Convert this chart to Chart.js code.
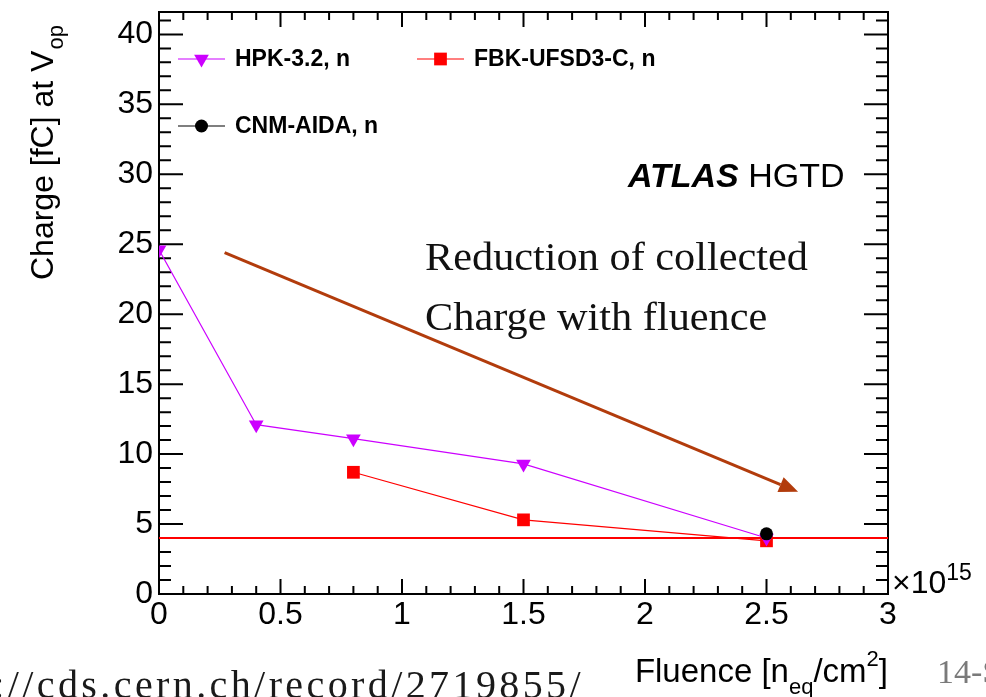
<!DOCTYPE html>
<html>
<head>
<meta charset="utf-8">
<script src="https://cdn.jsdelivr.net/npm/chart.js@4/dist/chart.umd.min.js"></script>
<style>
  html, body { margin: 0; padding: 0; background: #ffffff; overflow: hidden; }
  canvas { display: block; }
</style>
</head>
<body>
<canvas id="chart" width="986" height="697"></canvas>
<script>
// Fluence in units of 1e15 n_eq/cm^2, collected charge in fC
const hpkFluence = [0, 0.4, 0.8, 1.5, 2.5];
const hpkCharge  = [24.6, 12.1, 11.1, 9.3, 4.0];
const fbkFluence = [0.8, 1.5, 2.5];
const fbkCharge  = [8.7, 5.3, 3.8];
const cnmFluence = [2.5];
const cnmCharge  = [4.3];

// 4 fC operating requirement
const thresholdFluence = [0, 3];
const thresholdCharge  = [4, 4];

// trend arrow, start and end in data units
const arrowFluence = [0.27, 2.63];
const arrowCharge  = [24.4, 7.3];

const seriesLabels = ['HPK-3.2, n', 'FBK-UFSD3-C, n', 'CNM-AIDA, n'];
const xTicks = [0, 0.5, 1, 1.5, 2, 2.5, 3];
const yTicks = [0, 5, 10, 15, 20, 25, 30, 35, 40];

const SANS = "'Liberation Sans', Arial, Helvetica, sans-serif";
const SERIF = "'Liberation Serif', 'Times New Roman', serif";
const VIOLET = '#cc00ff';
const RED = '#ff0000';
const BLACK = '#000000';
const ARROW = '#b23c0c';

const toPoints = (xs, ys) => xs.map((x, i) => ({ x: x, y: ys[i] }));

// ROOT-style frame: box plus inward ticks on all four sides
const framePlugin = {
  id: 'rootFrame',
  beforeDatasetsDraw(chart) {
    const ctx = chart.ctx;
    const a = chart.chartArea;
    const xs = chart.scales.x, ys = chart.scales.y;
    ctx.save();
    ctx.strokeStyle = '#000';
    ctx.lineWidth = 2;
    ctx.strokeRect(a.left, a.top, a.right - a.left, a.bottom - a.top);

    const xMajor = 15, xMinor = 8, yMajor = 24, yMinor = 12;
    ctx.beginPath();
    for (let i = 0; i <= 30; i++) {
      const v = i / 10;
      const px = xs.getPixelForValue(v);
      const len = (i % 5 === 0) ? xMajor : xMinor;
      ctx.moveTo(px, a.bottom); ctx.lineTo(px, a.bottom - len);
      ctx.moveTo(px, a.top);    ctx.lineTo(px, a.top + len);
    }
    for (let v = 0; v <= ys.max; v += 1) {
      const py = ys.getPixelForValue(v);
      const len = (v % 5 === 0) ? yMajor : yMinor;
      ctx.moveTo(a.left, py);  ctx.lineTo(a.left + len, py);
      ctx.moveTo(a.right, py); ctx.lineTo(a.right - len, py);
    }
    ctx.stroke();
    ctx.restore();
  },
  afterDraw(chart) {
    const ctx = chart.ctx;
    const xs = chart.scales.x, ys = chart.scales.y;
    ctx.save();

    // trend arrow
    const x0 = xs.getPixelForValue(arrowFluence[0]), y0 = ys.getPixelForValue(arrowCharge[0]);
    const x1 = xs.getPixelForValue(arrowFluence[1]), y1 = ys.getPixelForValue(arrowCharge[1]);
    const ang = Math.atan2(y1 - y0, x1 - x0);
    const headLen = 19, headHalf = 8;
    const bx = x1 - headLen * Math.cos(ang), by = y1 - headLen * Math.sin(ang);
    ctx.strokeStyle = ARROW; ctx.fillStyle = ARROW; ctx.lineWidth = 3;
    ctx.beginPath(); ctx.moveTo(x0, y0); ctx.lineTo(bx, by); ctx.stroke();
    ctx.beginPath();
    ctx.moveTo(x1, y1);
    ctx.lineTo(bx + headHalf * Math.sin(ang), by - headHalf * Math.cos(ang));
    ctx.lineTo(bx - headHalf * Math.sin(ang), by + headHalf * Math.cos(ang));
    ctx.closePath(); ctx.fill();

    // legend
    const entries = [
      { ds: 0, x: 178, y: 59 },
      { ds: 1, x: 417, y: 59 },
      { ds: 2, x: 178, y: 126 }
    ];
    entries.forEach(e => {
      const ds = chart.data.datasets[e.ds];
      ctx.strokeStyle = ds.borderColor; ctx.fillStyle = ds.backgroundColor;
      ctx.lineWidth = 1.2;
      ctx.beginPath(); ctx.moveTo(e.x, e.y); ctx.lineTo(e.x + 47, e.y); ctx.stroke();
      Chart.helpers.drawPoint(ctx, {
        pointStyle: ds.pointStyle, radius: ds.pointRadius,
        rotation: ds.pointRotation || 0, borderWidth: 0
      }, e.x + 23.5, e.y);
      ctx.fillStyle = '#000';
      ctx.font = 'bold 23px ' + SANS;
      ctx.textAlign = 'left'; ctx.textBaseline = 'middle';
      ctx.fillText(ds.label, e.x + 57, e.y + 1);
    });

    // experiment label
    ctx.textBaseline = 'alphabetic';
    ctx.fillStyle = '#000';
    ctx.font = 'italic bold 34px ' + SANS;
    ctx.fillText('ATLAS', 628, 187);
    const wAtlas = ctx.measureText('ATLAS ').width;
    ctx.font = '34px ' + SANS;
    ctx.fillText('HGTD', 628 + wAtlas, 187);

    // annotation text
    ctx.fillStyle = '#111';
    ctx.font = '40px ' + SERIF;
    const l1 = 'Reduction of collected', l2 = 'Charge with fluence';
    const sx = 383 / ctx.measureText(l1).width;
    ctx.save(); ctx.translate(425, 270); ctx.scale(sx, 1); ctx.fillText(l1, 0, 0); ctx.restore();
    ctx.save(); ctx.translate(425, 330); ctx.scale(sx, 1); ctx.fillText(l2, 0, 0); ctx.restore();

    // y axis title
    ctx.fillStyle = '#000';
    ctx.save();
    ctx.translate(53, 280); ctx.rotate(-Math.PI / 2);
    ctx.font = '32px ' + SANS;
    const yMain = 'Charge [fC] at V';
    ctx.fillText(yMain, 0, 0);
    const wy = ctx.measureText(yMain).width;
    ctx.font = '22px ' + SANS;
    ctx.fillText('op', wy + 1, 10);
    ctx.restore();

    // x axis title, right-aligned to the axis end
    const right = chart.chartArea.right;
    ctx.font = '33px ' + SANS;
    const wA = ctx.measureText('Fluence [n').width;
    const wC = ctx.measureText('/cm').width;
    const wE = ctx.measureText(']').width;
    ctx.font = '22px ' + SANS;
    const wB = ctx.measureText('eq').width;
    const wD = ctx.measureText('2').width;
    let px = right - (wA + wB + wC + wD + wE);
    ctx.font = '33px ' + SANS; ctx.fillText('Fluence [n', px, 682); px += wA;
    ctx.font = '22px ' + SANS; ctx.fillText('eq', px, 694); px += wB;
    ctx.font = '33px ' + SANS; ctx.fillText('/cm', px, 682); px += wC;
    ctx.font = '22px ' + SANS; ctx.fillText('2', px, 666); px += wD;
    ctx.font = '33px ' + SANS; ctx.fillText(']', px, 682);

    // axis multiplier
    ctx.font = '32px ' + SANS;
    ctx.fillText('\u00d710', 892, 593);
    const wm = ctx.measureText('\u00d710').width;
    ctx.font = '23px ' + SANS;
    ctx.fillText('15', 892 + wm, 580);

    // slide footer
    ctx.font = '40px ' + SERIF;
    ctx.fillStyle = '#1a1a1a';
    const url = 'https://cds.cern.ch/record/2719855/';
    if ('letterSpacing' in ctx) ctx.letterSpacing = '3.4px';
    const wu = ctx.measureText(url).width;
    ctx.fillText(url, 584 - wu, 698);
    if ('letterSpacing' in ctx) ctx.letterSpacing = '0px';
    ctx.fillStyle = '#7a7a7a';
    ctx.font = '34px ' + SERIF;
    ctx.fillText('14-Sep-2020', 937, 683);

    ctx.restore();
  }
};

new Chart(document.getElementById('chart'), {
  type: 'line',
  data: {
    datasets: [
      {
        label: seriesLabels[0], data: toPoints(hpkFluence, hpkCharge),
        borderColor: VIOLET, backgroundColor: VIOLET, borderWidth: 1.2,
        pointStyle: 'triangle', pointRotation: 180, pointRadius: 8.5, pointBorderWidth: 0,
        tension: 0, order: 2
      },
      {
        label: seriesLabels[1], data: toPoints(fbkFluence, fbkCharge),
        borderColor: RED, backgroundColor: RED, borderWidth: 1.2,
        pointStyle: 'rect', pointRadius: 9, pointBorderWidth: 0,
        tension: 0, order: 3
      },
      {
        label: seriesLabels[2], data: toPoints(cnmFluence, cnmCharge),
        borderColor: BLACK, backgroundColor: BLACK, borderWidth: 1.2,
        pointStyle: 'circle', pointRadius: 6.5, pointBorderWidth: 0,
        tension: 0, order: 1
      },
      {
        label: '4 fC', data: toPoints(thresholdFluence, thresholdCharge),
        borderColor: RED, backgroundColor: RED, borderWidth: 2,
        pointRadius: 0, tension: 0, order: 4
      }
    ]
  },
  options: {
    responsive: false,
    animation: false,
    devicePixelRatio: 1,
    events: [],
    layout: { padding: { left: 0, right: 98, top: 12, bottom: 0 } },
    plugins: { legend: { display: false }, tooltip: { enabled: false } },
    scales: {
      x: {
        type: 'linear', min: 0, max: 3,
        grid: { display: false, drawTicks: false },
        border: { display: false },
        afterFit: s => { s.height = 103; s.paddingLeft = 0; s.paddingRight = 0; },
        afterBuildTicks: s => { s.ticks = xTicks.map(v => ({ value: v })); },
        ticks: {
          font: { family: SANS, size: 32 }, color: '#000', padding: 2,
          autoSkip: false, maxRotation: 0, callback: v => String(v)
        }
      },
      y: {
        type: 'linear', min: 0, max: 41.6,
        grid: { display: false, drawTicks: false },
        border: { display: false },
        afterFit: s => { s.width = 159; s.paddingTop = 0; s.paddingBottom = 0; },
        afterBuildTicks: s => { s.ticks = yTicks.map(v => ({ value: v })); },
        ticks: {
          font: { family: SANS, size: 32 }, color: '#000', padding: 6,
          autoSkip: false, callback: v => String(v)
        }
      }
    }
  },
  plugins: [framePlugin]
});
</script>
</body>
</html>
